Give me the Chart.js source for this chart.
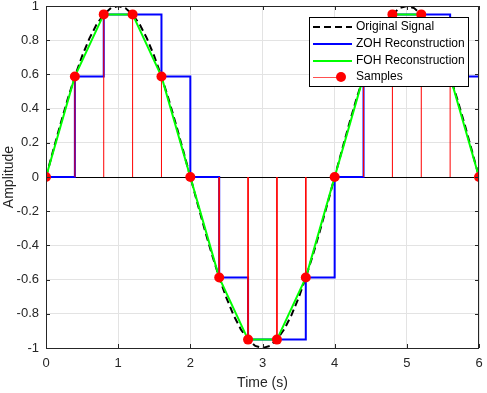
<!DOCTYPE html>
<html>
<head>
<meta charset="utf-8">
<script src="https://cdn.jsdelivr.net/npm/chart.js@4.4.1/dist/chart.umd.min.js"></script>
<style>
  body { margin: 0; background: #fff; }
  canvas { display: block; }
</style>
</head>
<body>
<canvas id="chart" width="487" height="393"></canvas>
<script>
// Sinal original
const tSignal = [0, 0.1, 0.2, 0.3, 0.4, 0.5, 0.6, 0.7, 0.8, 0.9, 1.0, 1.1, 1.2, 1.3, 1.4, 1.5, 1.6, 1.7, 1.8, 1.9, 2.0,
  2.1, 2.2, 2.3, 2.4, 2.5, 2.6, 2.7, 2.8, 2.9, 3.0, 3.1, 3.2, 3.3, 3.4, 3.5, 3.6, 3.7, 3.8, 3.9, 4.0,
  4.1, 4.2, 4.3, 4.4, 4.5, 4.6, 4.7, 4.8, 4.9, 5.0, 5.1, 5.2, 5.3, 5.4, 5.5, 5.6, 5.7, 5.8, 5.9, 6.0];
const ySignal = [0, 0.156, 0.309, 0.454, 0.588, 0.707, 0.809, 0.891, 0.951, 0.988, 1, 0.988, 0.951, 0.891, 0.809, 0.707, 0.588, 0.454, 0.309, 0.156, 0,
  -0.156, -0.309, -0.454, -0.588, -0.707, -0.809, -0.891, -0.951, -0.988, -1, -0.988, -0.951, -0.891, -0.809, -0.707, -0.588, -0.454, -0.309, -0.156, 0,
  0.156, 0.309, 0.454, 0.588, 0.707, 0.809, 0.891, 0.951, 0.988, 1, 0.988, 0.951, 0.891, 0.809, 0.707, 0.588, 0.454, 0.309, 0.156, 0];

// Amostras
const tSamples = [0, 0.4, 0.8, 1.2, 1.6, 2.0, 2.4, 2.8, 3.2, 3.6, 4.0, 4.4, 4.8, 5.2, 5.6, 6.0];
const ySamples = [0, 0.588, 0.951, 0.951, 0.588, 0, -0.588, -0.951, -0.951, -0.588, 0, 0.588, 0.951, 0.951, 0.588, 0];

// Eixos
const xTicks = [0, 1, 2, 3, 4, 5, 6];
const yTicks = [-1, -0.8, -0.6, -0.4, -0.2, 0, 0.2, 0.4, 0.6, 0.8, 1];

const FONT = 'Arial, "Liberation Sans", Helvetica, sans-serif';
const AXIS_COLOR = '#262626';

const signalPts = tSignal.map((t, i) => ({ x: t, y: ySignal[i] }));
const samplePts = tSamples.map((t, i) => ({ x: t, y: ySamples[i] }));
const stemPts = [];
tSamples.forEach((t, i) => {
    stemPts.push({ x: t, y: 0 }, { x: t, y: ySamples[i] }, { x: t, y: null });
});

// Plugin: linha de base, caixa, ticks internos e legenda
const matlabAxes = {
    id: 'matlabAxes',
    beforeDatasetsDraw(chart) {
        const { ctx, chartArea: a, scales: { y } } = chart;
        const y0 = y.getPixelForValue(0);
        ctx.save();
        ctx.strokeStyle = '#000';
        ctx.lineWidth = 1;
        ctx.beginPath();
        ctx.moveTo(a.left, Math.round(y0) + 0.5);
        ctx.lineTo(a.right, Math.round(y0) + 0.5);
        ctx.stroke();
        ctx.restore();
    },
    afterDatasetsDraw(chart) {
        const { ctx, chartArea: a, scales: { x, y } } = chart;
        ctx.save();
        ctx.strokeStyle = AXIS_COLOR;
        ctx.lineWidth = 1;
        ctx.beginPath();
        xTicks.forEach(v => {
            const px = Math.round(x.getPixelForValue(v)) + 0.5;
            ctx.moveTo(px, a.bottom); ctx.lineTo(px, a.bottom - 4);
            ctx.moveTo(px, a.top); ctx.lineTo(px, a.top + 4);
        });
        yTicks.forEach(v => {
            const py = Math.round(y.getPixelForValue(v)) + 0.5;
            ctx.moveTo(a.left, py); ctx.lineTo(a.left + 4, py);
            ctx.moveTo(a.right, py); ctx.lineTo(a.right - 4, py);
        });
        ctx.stroke();
        ctx.strokeRect(Math.round(a.left) + 0.5, Math.round(a.top) + 0.5,
            Math.round(a.right - a.left) - 1, Math.round(a.bottom - a.top));
        ctx.restore();
    },
    afterDraw(chart) {
        const { ctx } = chart;
        const bx = 309, by = 17, bw = 159, bh = 69;
        ctx.save();
        ctx.fillStyle = '#fff';
        ctx.fillRect(bx, by, bw, bh);
        ctx.strokeStyle = '#000';
        ctx.lineWidth = 1;
        ctx.strokeRect(bx + 0.5, by + 0.5, bw, bh);
        const rows = [27, 44, 61, 77];
        const entries = chart.data.datasets.slice(0, 4);
        ctx.font = '12px ' + FONT;
        ctx.textBaseline = 'middle';
        entries.forEach((ds, i) => {
            const ry = rows[i];
            ctx.strokeStyle = ds.borderColor;
            ctx.lineWidth = ds.borderWidth;
            ctx.setLineDash(ds.borderDash || []);
            ctx.beginPath();
            if (ds.legendMarker) {
                ctx.strokeStyle = ds.legendLine;
                ctx.lineWidth = 1;
                ctx.moveTo(313, ry + 0.5); ctx.lineTo(341, ry + 0.5);
                ctx.stroke();
                ctx.fillStyle = ds.backgroundColor;
                ctx.beginPath();
                ctx.arc(341, ry, 5, 0, Math.PI * 2);
                ctx.fill();
            } else {
                ctx.moveTo(313, ry); ctx.lineTo(352, ry);
                ctx.stroke();
            }
            ctx.setLineDash([]);
            ctx.fillStyle = '#000';
            ctx.fillText(ds.label, 356, ry);
        });
        ctx.restore();
    }
};

const ctx = document.getElementById('chart').getContext('2d');
const chart = new Chart(ctx, {
    type: 'line',
    data: {
        datasets: [
            {
                label: 'Original Signal',
                data: signalPts,
                borderColor: '#000',
                borderWidth: 2,
                borderDash: [7, 4],
                pointRadius: 0,
                fill: false,
                order: 5
            },
            {
                label: 'ZOH Reconstruction',
                data: samplePts,
                borderColor: '#0000ff',
                borderWidth: 2,
                stepped: 'before',
                pointRadius: 0,
                fill: false,
                order: 4
            },
            {
                label: 'FOH Reconstruction',
                data: samplePts,
                borderColor: '#00ff00',
                borderWidth: 2,
                pointRadius: 0,
                fill: false,
                order: 3
            },
            {
                label: 'Samples',
                data: samplePts,
                showLine: false,
                borderColor: '#ff0000',
                backgroundColor: '#ff0000',
                pointRadius: 5,
                pointBorderWidth: 0,
                legendMarker: true,
                legendLine: '#ff5050',
                order: 1
            },
            {
                label: 'stems',
                data: stemPts,
                borderColor: '#ff0000',
                borderWidth: 1,
                pointRadius: 0,
                spanGaps: false,
                fill: false,
                order: 2
            }
        ]
    },
    options: {
        responsive: false,
        animation: false,
        events: [],
        layout: { padding: { top: 6, right: 8, left: 0, bottom: 1 } },
        plugins: {
            legend: { display: false },
            tooltip: { enabled: false }
        },
        scales: {
            x: {
                type: 'linear',
                min: 0,
                max: 6,
                afterFit(scale) { scale.height = 44; scale.paddingLeft = 0; scale.paddingRight = 0; },
                afterBuildTicks(scale) { scale.ticks = xTicks.map(v => ({ value: v })); },
                grid: { color: '#e3e3e3', drawTicks: false },
                border: { display: false },
                ticks: { padding: 8, color: AXIS_COLOR, font: { size: 13, family: FONT },
                    callback: v => String(Math.round(v * 10) / 10) },
                title: { display: true, text: 'Time (s)', color: AXIS_COLOR, padding: { top: 0, bottom: 0 }, font: { size: 14, family: FONT } }
            },
            y: {
                type: 'linear',
                min: -1,
                max: 1,
                afterFit(scale) { scale.width = 46; scale.paddingTop = 0; scale.paddingBottom = 0; },
                afterBuildTicks(scale) { scale.ticks = yTicks.map(v => ({ value: v })); },
                grid: { color: '#e3e3e3', drawTicks: false },
                border: { display: false },
                ticks: { padding: 7, color: AXIS_COLOR, font: { size: 13, family: FONT },
                    callback: v => String(Math.round(v * 10) / 10) },
                title: { display: true, text: 'Amplitude', color: AXIS_COLOR, padding: { top: 1, bottom: 0 }, font: { size: 14, family: FONT } }
            }
        }
    },
    plugins: [matlabAxes]
});
</script>
</body>
</html>
